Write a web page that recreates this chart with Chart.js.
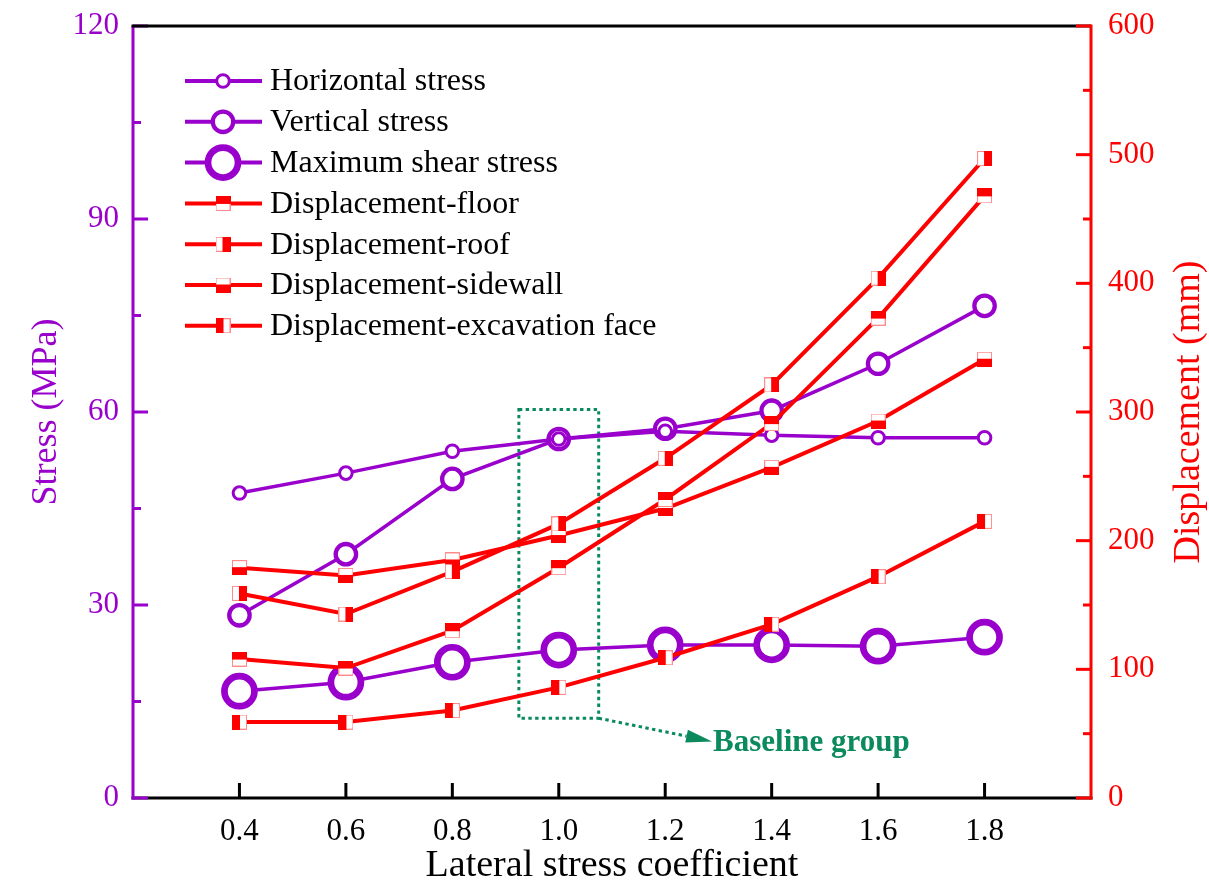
<!DOCTYPE html>
<html lang="en">
<head>
    <meta charset="UTF-8">
    <title>Stress and displacement vs lateral stress coefficient</title>
    <script src="https://cdn.jsdelivr.net/npm/chart.js"></script>
    <style>
        body { margin: 0; background: #fff; }
        #chart { display: block; }
    </style>
</head>

<body>
    <canvas id="chart" width="1209" height="885"></canvas>

    <script>
        // lateral stress coefficient (x axis)
        const coefficients = [0.4, 0.6, 0.8, 1.0, 1.2, 1.4, 1.6, 1.8];
        const xTickLabels = ['0.4', '0.6', '0.8', '1.0', '1.2', '1.4', '1.6', '1.8'];

        // stresses, MPa (left axis)
        const horizontalStress = [47.4, 50.5, 53.9, 55.8, 57.0, 56.4, 56.0, 56.0];
        const verticalStress = [28.4, 37.9, 49.6, 55.8, 57.4, 60.2, 67.5, 76.5];
        const maxShearStress = [16.6, 18.0, 21.1, 23.0, 23.8, 23.8, 23.6, 25.0];

        // displacements, mm (right axis)
        const dispFloor = [108, 101, 130, 179, 232, 291, 373, 468];
        const dispRoof = [159, 143, 176, 213, 264, 321, 404, 497];
        const dispSidewall = [179, 173, 185, 204, 225, 257, 293, 341];
        const dispFace = [59, 59, 68, 86, 109, 135, 172, 215];

        const stressTicks = [0, 30, 60, 90, 120];
        const dispTicks = [0, 100, 200, 300, 400, 500, 600];

        const PURPLE = '#9900CC';
        const RED = '#FF0000';
        const GREEN = '#0B8A5E';
        const SERIF = "'Liberation Serif', 'Times New Roman', serif";

        // half-filled square marker (white half gets a pale red edge)
        function halfSquare(side) {
            const s = 15, h = 8;
            const c = document.createElement('canvas');
            c.width = s; c.height = s;
            const g = c.getContext('2d');
            g.fillStyle = '#ffffff';
            g.fillRect(0, 0, s, s);
            g.strokeStyle = '#ff8c8c';
            g.lineWidth = 1;
            g.strokeRect(0.5, 0.5, s - 1, s - 1);
            g.fillStyle = RED;
            if (side === 'top') g.fillRect(0, 0, s, h);
            if (side === 'bottom') g.fillRect(0, s - h, s, h);
            if (side === 'left') g.fillRect(0, 0, h, s);
            if (side === 'right') g.fillRect(s - h, 0, h, s);
            return c;
        }

        const series = [
            { label: 'Horizontal stress', values: horizontalStress, axis: 'yStress', color: PURPLE, radius: 6.3, ring: 3 },
            { label: 'Vertical stress', values: verticalStress, axis: 'yStress', color: PURPLE, radius: 10.2, ring: 4.3 },
            { label: 'Maximum shear stress', values: maxShearStress, axis: 'yStress', color: PURPLE, radius: 15, ring: 6.7 },
            { label: 'Displacement-floor', values: dispFloor, axis: 'yDisp', color: RED, marker: halfSquare('top') },
            { label: 'Displacement-roof', values: dispRoof, axis: 'yDisp', color: RED, marker: halfSquare('right') },
            { label: 'Displacement-sidewall', values: dispSidewall, axis: 'yDisp', color: RED, marker: halfSquare('bottom') },
            { label: 'Displacement-excavation face', values: dispFace, axis: 'yDisp', color: RED, marker: halfSquare('left') }
        ];

        const datasets = series.map(s => ({
            label: s.label,
            data: coefficients.map((x, i) => ({ x: x, y: s.values[i] })),
            yAxisID: s.axis,
            borderColor: s.color,
            borderWidth: s.marker ? 4 : 3.5,
            tension: 0,
            pointStyle: s.marker || 'circle',
            pointRadius: s.marker ? 7 : s.radius,
            pointBorderWidth: s.marker ? 0 : s.ring,
            pointBorderColor: s.color,
            pointBackgroundColor: '#ffffff',
            order: s.marker ? 1 : 2
        }));

        // keep the plot box where the layout puts it, labels may overhang
        function fixSize(prop, size) {
            return scale => {
                scale[prop] = size;
                scale.paddingTop = 0;
                scale.paddingBottom = 0;
                scale.paddingLeft = 0;
                scale.paddingRight = 0;
            };
        }

        // dotted box around the 1.0 group plus its arrow and caption
        const baselinePlugin = {
            id: 'baseline',
            beforeDatasetsDraw(chart) {
                const { ctx, scales } = chart;
                const x1 = scales.x.getPixelForValue(0.925);
                const x2 = scales.x.getPixelForValue(1.075);
                const y1 = scales.yStress.getPixelForValue(60.4);
                const y2 = scales.yStress.getPixelForValue(12.4);
                ctx.save();
                ctx.strokeStyle = GREEN;
                ctx.lineWidth = 3;
                ctx.setLineDash([3.4, 3.4]);
                ctx.strokeRect(x1, y1, x2 - x1, y2 - y1);
                ctx.restore();
            },
            afterDatasetsDraw(chart) {
                const { ctx, scales } = chart;
                const sx = scales.x.getPixelForValue(1.075);
                const sy = scales.yStress.getPixelForValue(12.4);
                const tx = scales.x.getPixelForValue(1.288);
                const ty = scales.yStress.getPixelForValue(8.8);
                const ang = Math.atan2(ty - sy, tx - sx);
                const headLen = 26, headW = 6.5;
                const bx = tx - headLen * Math.cos(ang), by = ty - headLen * Math.sin(ang);
                ctx.save();
                ctx.strokeStyle = GREEN;
                ctx.fillStyle = GREEN;
                ctx.lineWidth = 3;
                ctx.setLineDash([3.4, 3.4]);
                ctx.beginPath();
                ctx.moveTo(sx, sy);
                ctx.lineTo(bx, by);
                ctx.stroke();
                ctx.setLineDash([]);
                ctx.beginPath();
                ctx.moveTo(tx, ty);
                ctx.lineTo(bx + headW * Math.sin(ang), by - headW * Math.cos(ang));
                ctx.lineTo(bx - headW * Math.sin(ang), by + headW * Math.cos(ang));
                ctx.closePath();
                ctx.fill();
                ctx.font = 'bold 31px ' + SERIF;
                ctx.textBaseline = 'middle';
                ctx.textAlign = 'left';
                ctx.fillText('Baseline group', tx + 1, ty + 2);
                ctx.restore();
            }
        };

        // axis lines with inward major/minor ticks, coloured per axis
        const framePlugin = {
            id: 'frame',
            afterDatasetsDraw(chart) {
                const { ctx, chartArea: a, scales } = chart;
                const seg = (x1, y1, x2, y2, color) => {
                    ctx.strokeStyle = color;
                    ctx.beginPath();
                    ctx.moveTo(x1, y1);
                    ctx.lineTo(x2, y2);
                    ctx.stroke();
                };
                ctx.save();
                ctx.lineWidth = 3;
                ctx.lineCap = 'butt';

                seg(a.left - 1.5, a.bottom, a.right + 1.5, a.bottom, '#000');
                coefficients.forEach(v => {
                    const x = scales.x.getPixelForValue(v);
                    seg(x, a.bottom, x, a.bottom - 15, '#000');
                });

                seg(a.left, a.top, a.left, a.bottom + 1.5, PURPLE);
                stressTicks.forEach((v, i) => {
                    const y = scales.yStress.getPixelForValue(v);
                    seg(a.left, y, a.left + 15, y, PURPLE);
                    if (i > 0) {
                        const ym = scales.yStress.getPixelForValue((v + stressTicks[i - 1]) / 2);
                        seg(a.left, ym, a.left + 8, ym, PURPLE);
                    }
                });

                seg(a.left - 1.5, a.top, a.right, a.top, '#000');

                seg(a.right, a.top - 1.5, a.right, a.bottom + 1.5, RED);
                dispTicks.forEach((v, i) => {
                    const y = scales.yDisp.getPixelForValue(v);
                    seg(a.right, y, a.right - 15, y, RED);
                    if (i > 0) {
                        const ym = scales.yDisp.getPixelForValue((v + dispTicks[i - 1]) / 2);
                        seg(a.right, ym, a.right - 8, ym, RED);
                    }
                });
                ctx.restore();
            },
            afterDraw(chart) {
                const { ctx, chartArea: a } = chart;
                const midY = (a.top + a.bottom) / 2;
                ctx.save();
                ctx.textAlign = 'center';
                ctx.textBaseline = 'middle';
                ctx.font = '38px ' + SERIF;
                ctx.fillStyle = '#000';
                ctx.fillText('Lateral stress coefficient', (a.left + a.right) / 2, 866);

                ctx.translate(47, midY);
                ctx.rotate(-Math.PI / 2);
                ctx.fillStyle = PURPLE;
                ctx.font = '36px ' + SERIF;
                ctx.fillText('Stress (MPa)', 0, 0);
                ctx.restore();

                ctx.save();
                ctx.textAlign = 'center';
                ctx.textBaseline = 'middle';
                ctx.translate(1189, midY);
                ctx.rotate(-Math.PI / 2);
                ctx.fillStyle = RED;
                ctx.font = '38px ' + SERIF;
                ctx.fillText('Displacement (mm)', 0, 0);
                ctx.restore();
            }
        };

        // legend inside the plot: line + marker, then the label
        const legendPlugin = {
            id: 'innerLegend',
            afterDraw(chart) {
                const { ctx, chartArea: a } = chart;
                const x0 = a.left + 52, x1 = a.left + 129, xm = a.left + 90;
                const top = 81, step = 40.8;
                ctx.save();
                ctx.font = '32px ' + SERIF;
                ctx.textBaseline = 'middle';
                ctx.textAlign = 'left';
                series.forEach((s, i) => {
                    const y = top + i * step;
                    ctx.strokeStyle = s.color;
                    ctx.lineWidth = 4;
                    ctx.beginPath();
                    ctx.moveTo(x0, y);
                    ctx.lineTo(x1, y);
                    ctx.stroke();
                    if (s.marker) {
                        ctx.drawImage(s.marker, xm - s.marker.width / 2, y - s.marker.height / 2);
                    } else {
                        ctx.fillStyle = '#ffffff';
                        ctx.lineWidth = s.ring;
                        ctx.beginPath();
                        ctx.arc(xm, y, s.radius, 0, Math.PI * 2);
                        ctx.fill();
                        ctx.stroke();
                    }
                    ctx.fillStyle = '#000';
                    ctx.fillText(s.label, a.left + 137, y + 1);
                });
                ctx.restore();
            }
        };

        new Chart(document.getElementById('chart'), {
            type: 'line',
            data: { datasets: datasets },
            options: {
                responsive: false,
                animation: false,
                layout: { padding: { top: 26, left: 0, right: 0, bottom: 0 } },
                plugins: {
                    legend: { display: false },
                    tooltip: { enabled: false }
                },
                scales: {
                    x: {
                        type: 'linear',
                        position: 'bottom',
                        min: 0.2,
                        max: 2.0,
                        afterBuildTicks: scale => { scale.ticks = coefficients.map(v => ({ value: v })); },
                        afterFit: fixSize('height', 87),
                        ticks: {
                            callback: (v, i) => xTickLabels[i],
                            autoSkip: false,
                            maxRotation: 0,
                            padding: 15,
                            color: '#000',
                            font: { family: SERIF, size: 31 }
                        },
                        grid: { display: false, drawTicks: false },
                        border: { display: false }
                    },
                    yStress: {
                        type: 'linear',
                        position: 'left',
                        min: 0,
                        max: 120,
                        afterFit: fixSize('width', 133),
                        ticks: {
                            stepSize: 30,
                            padding: 14,
                            color: PURPLE,
                            font: { family: SERIF, size: 31 }
                        },
                        grid: { display: false, drawTicks: false },
                        border: { display: false }
                    },
                    yDisp: {
                        type: 'linear',
                        position: 'right',
                        min: 0,
                        max: 600,
                        afterFit: fixSize('width', 118),
                        ticks: {
                            stepSize: 100,
                            padding: 17,
                            color: RED,
                            font: { family: SERIF, size: 31 }
                        },
                        grid: { display: false, drawTicks: false },
                        border: { display: false }
                    }
                }
            },
            plugins: [baselinePlugin, framePlugin, legendPlugin]
        });
    </script>
</body>
</html>
